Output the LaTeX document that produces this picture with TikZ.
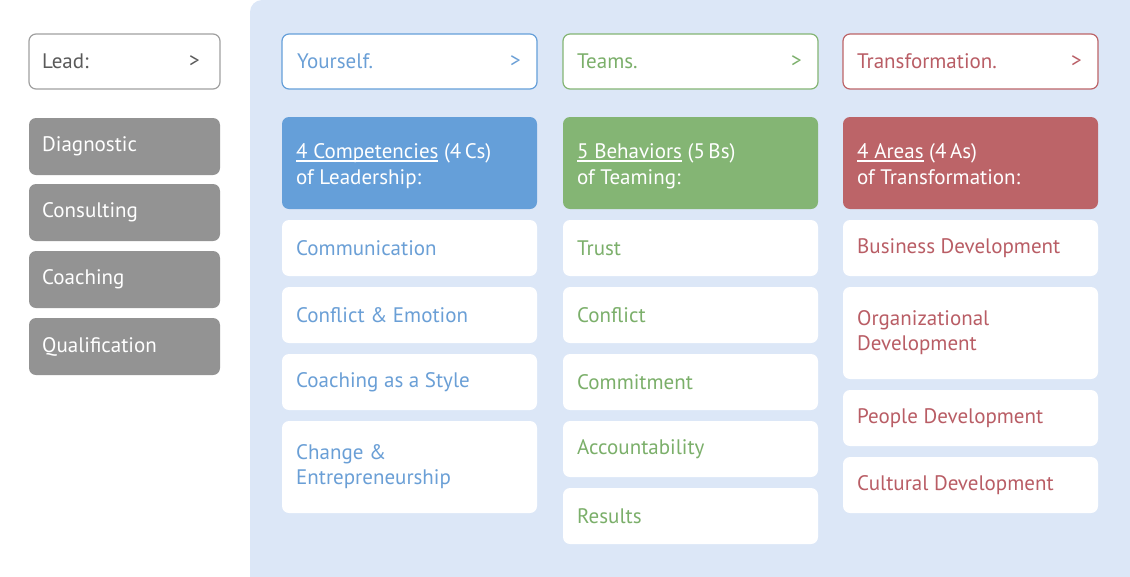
\documentclass[tikz,border=0pt]{standalone}
\usepackage{fontspec}
\setmainfont{PT Sans}
\definecolor{panel}{HTML}{DCE7F7}
\definecolor{lgray}{HTML}{939393}
\definecolor{bordgray}{HTML}{A0A0A0}
\definecolor{cblue}{HTML}{659FD9}
\definecolor{cgreen}{HTML}{84B574}
\definecolor{cred}{HTML}{BC6468}
\definecolor{tblue}{HTML}{6A9FD6}
\definecolor{tgreen}{HTML}{7BAF6A}
\definecolor{tred}{HTML}{B95D65}
\definecolor{tgray}{HTML}{5A5A5A}
\newsavebox{\myulbox}
\newcommand{\myul}[1]{{\sbox{\myulbox}{#1}\rlap{\rule[-3pt]{\wd\myulbox}{1.2pt}}\usebox{\myulbox}}}
\tikzset{
  box/.style={rounded corners=7pt, line width=1.2pt},
  lbl/.style={anchor=west, inner sep=0pt, font=\fontsize{21}{25}\selectfont, align=left},
  hl/.style={anchor=base west, inner sep=0pt, font=\fontsize{21}{25}\selectfont, text=white},
}
\begin{document}
\begin{tikzpicture}[x=1pt,y=-1pt]
\useasboundingbox (0,0) rectangle (1130,576);
\fill[panel, rounded corners=12pt] (250,0) rectangle (1142,590);
% Lead
\draw[box, draw=bordgray, fill=white] (29,34) rectangle (220,89);
\node[lbl, text=tgray] (lead) at (42,61.5) {Lead:};
\node[lbl, anchor=east, text=tgray] (leadarr) at (200,61.5) {>};
% gray items
\foreach \y/\t [count=\i] in {118/Diagnostic,184/Consulting,251/Coaching,318/Qualification}{
  \fill[lgray, rounded corners=7pt] (29,\y) rectangle (220,\y+57);
  \node[lbl, text=white] (g\i) at (42,\y+28.5) {\t};
}
% headers
\draw[box, draw=cblue, fill=white] (282,34) rectangle (537,89);
\node[lbl, text=tblue] (h1) at (297,61.5) {Yourself.};
\node[lbl, anchor=east, text=tblue] (h1a) at (521,61.5) {>};
\draw[box, draw=cgreen, fill=white] (563,34) rectangle (818,89);
\node[lbl, text=tgreen] (h2) at (577,61.5) {Teams.};
\node[lbl, anchor=east, text=tgreen] (h2a) at (802,61.5) {>};
\draw[box, draw=cred, fill=white] (843,34) rectangle (1098,89);
\node[lbl, text=tred] (h3) at (857,61.5) {Transformation.};
\node[lbl, anchor=east, text=tred] (h3a) at (1082,61.5) {>};
% colored
\fill[cblue, rounded corners=7pt] (282,117) rectangle (537,209);
\node[hl] (c1) at (296,158.5) {\myul{4 Competencies} (4\,Cs)};
\node[hl] (c1b) at (296,184) {of Leadership:};
\fill[cgreen, rounded corners=7pt] (563,117) rectangle (818,209);
\node[hl] (c2) at (577,158.5) {\myul{5 Behaviors} (5\,Bs)};
\node[hl] (c2b) at (577,184) {of Teaming:};
\fill[cred, rounded corners=7pt] (843,117) rectangle (1098,209);
\node[hl] (c3) at (857,158.5) {\myul{4 Areas} (4\,As)};
\node[hl] (c3b) at (857,184) {of Transformation:};
% items col1
\foreach \a/\b/\t [count=\i] in {220/276/Communication,287/343/Conflict \& Emotion,354/410/Coaching as a Style,421/513/{Change \&\\Entrepreneurship}}{
  \fill[white, rounded corners=7pt] (282,\a) rectangle (537,\b);
  \node[lbl, text=tblue] (a\i) at (296,{(\a+\b)/2}) {\t};
}
\foreach \a/\b/\t [count=\i] in {220/276/Trust,287/343/Conflict,354/410/Commitment,421/477/Accountability,488/544/Results}{
  \fill[white, rounded corners=7pt] (563,\a) rectangle (818,\b);
  \node[lbl, text=tgreen] (b\i) at (577,{(\a+\b)/2}) {\t};
}
\foreach \a/\b/\t [count=\i] in {220/276/Business Development,287/379/{Organizational\\Development},390/446/People Development,457/513/Cultural Development}{
  \fill[white, rounded corners=7pt] (843,\a) rectangle (1098,\b);
  \node[lbl, text=tred] (d\i) at (857,{(\a+\b)/2}) {\t};
}
\end{tikzpicture}
\end{document}
